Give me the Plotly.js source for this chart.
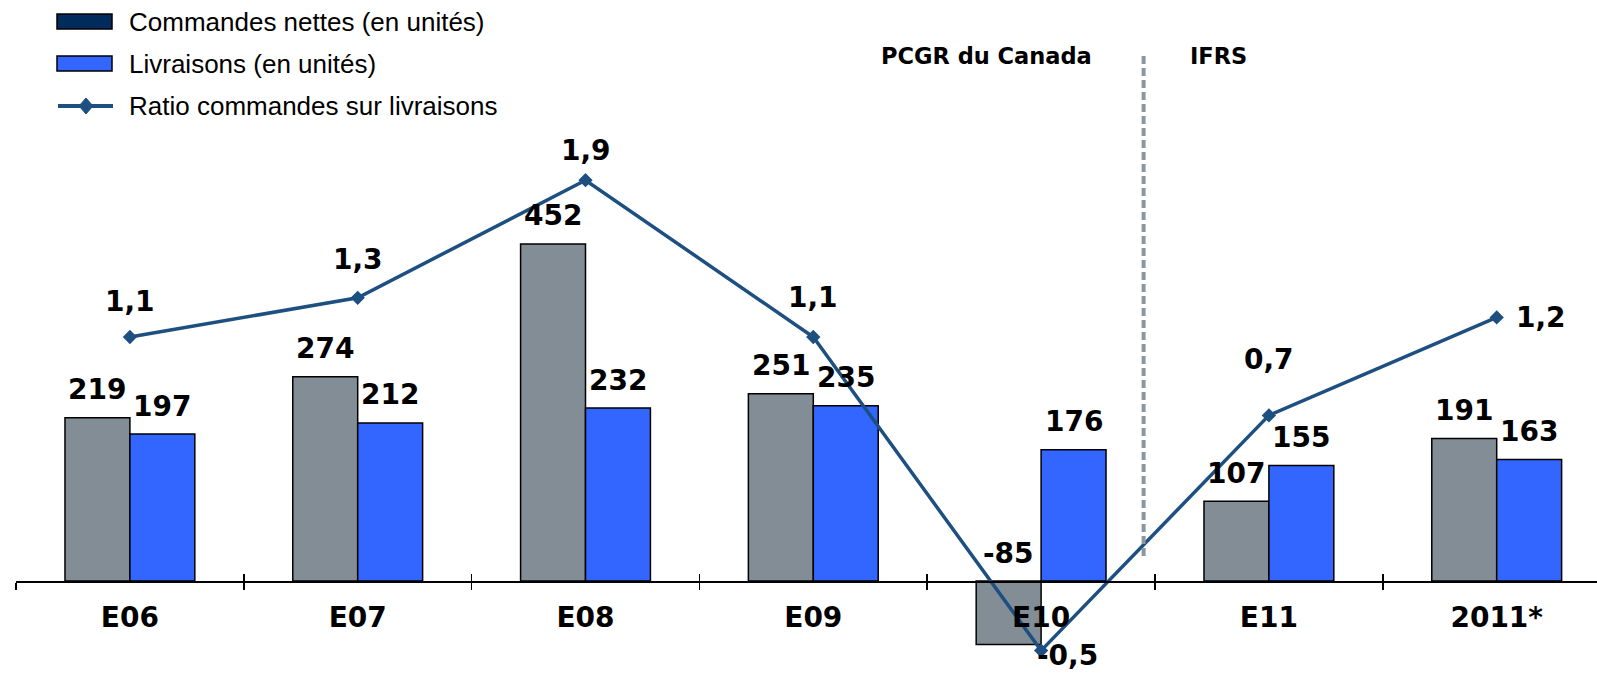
<!DOCTYPE html>
<html>
<head>
<meta charset="utf-8">
<script src="https://cdn.plot.ly/plotly-3.0.1.min.js"></script>
<style>html,body{margin:0;padding:0;background:#fff;}#chart{width:1597px;height:674px;}</style>
</head>
<body>
<div id="chart"></div>
<script>
// ---- data ----
const categories = ['E06', 'E07', 'E08', 'E09', 'E10', 'E11', '2011*'];
const commandes = [219, 274, 452, 251, -85, 107, 191];
const livraisons = [197, 212, 232, 235, 176, 155, 163];
const ratio = [1.1, 1.3, 1.9, 1.1, -0.5, 0.7, 1.2];
const seriesNames = ['Commandes nettes (en unités)', 'Livraisons (en unités)', 'Ratio commandes sur livraisons'];
const periodLabels = ['PCGR du Canada', 'IFRS'];

// ---- style ----
const W = 1597, H = 674;
const FONT = 'Liberation Sans, Arial, Helvetica, sans-serif';
const BOLD = 'DejaVu Sans, Liberation Sans, Arial, sans-serif';
const grayBar = '#828d96';
const blueBar = '#3366ff';
const legendNavy = '#002b5c';
const lineColor = '#1d4f81';
const dashColor = '#8c969e';
const barW = 0.285;
const ratioLabelShift = [[0, 36], [0, 38], [0, 30], [0, 40], [26, -5], [0, 56], [44, 0]];
const axisPos = (H - 581) / H;

function px(x) { return x / W; }
function py(y) { return 1 - y / H; }
function fmt(v) { return v.toFixed(1).replace('.', ','); }

const traces = [
  {
    type: 'bar', name: seriesNames[0], x: categories, y: commandes,
    offset: -barW, width: barW,
    marker: { color: grayBar, line: { color: '#000', width: 1.5 } },
    showlegend: false, hoverinfo: 'x+y'
  },
  {
    type: 'bar', name: seriesNames[1], x: categories, y: livraisons,
    offset: 0, width: barW,
    marker: { color: blueBar, line: { color: '#000', width: 1.5 } },
    showlegend: false, hoverinfo: 'x+y'
  },
  {
    type: 'scatter', mode: 'lines+markers', name: seriesNames[2],
    x: categories, y: ratio, xaxis: 'x2', yaxis: 'y2',
    line: { color: lineColor, width: 3.5 },
    marker: { symbol: 'diamond', size: 11, color: lineColor },
    showlegend: false
  }
];

const labelFont = { family: BOLD, size: 28, color: '#000', weight: 'bold' };
const annotations = [];
categories.forEach((c, i) => {
  annotations.push({
    x: i - barW / 2, y: Math.max(commandes[i], 0), xref: 'x', yref: 'y',
    text: String(commandes[i]), showarrow: false, yshift: 28, yanchor: 'middle', font: labelFont
  });
  annotations.push({
    x: i + barW / 2, y: Math.max(livraisons[i], 0), xref: 'x', yref: 'y',
    text: String(livraisons[i]), showarrow: false, yshift: 28, yanchor: 'middle', font: labelFont
  });
  annotations.push({
    x: i, y: ratio[i], xref: 'x2', yref: 'y2',
    text: fmt(ratio[i]), showarrow: false,
    xshift: ratioLabelShift[i][0], yshift: ratioLabelShift[i][1], yanchor: 'middle', font: labelFont
  });
});
// legend texts
const legendY = [22, 64, 106];
seriesNames.forEach((n, k) => {
  annotations.push({
    x: px(127), y: py(legendY[k]), xref: 'paper', yref: 'paper',
    xanchor: 'left', yanchor: 'middle', showarrow: false, text: n,
    font: { family: FONT, size: 26, color: '#000' }
  });
});
// period labels
const periodFont = { family: BOLD, size: 22.5, color: '#000', weight: 'bold' };
annotations.push({
  x: px(986), y: py(56), xref: 'paper', yref: 'paper', showarrow: false,
  text: periodLabels[0], xanchor: 'center', yanchor: 'middle', font: periodFont
});
annotations.push({
  x: px(1218), y: py(56), xref: 'paper', yref: 'paper', showarrow: false,
  text: periodLabels[1], xanchor: 'center', yanchor: 'middle', font: periodFont
});

const shapes = [
  { type: 'rect', xref: 'paper', yref: 'paper', x0: px(57), x1: px(112), y0: py(29), y1: py(14),
    fillcolor: legendNavy, line: { color: '#000', width: 1.5 } },
  { type: 'rect', xref: 'paper', yref: 'paper', x0: px(57), x1: px(112), y0: py(71), y1: py(56),
    fillcolor: blueBar, line: { color: '#000', width: 1.5 } },
  { type: 'line', xref: 'paper', yref: 'paper', x0: px(58), x1: px(113), y0: py(106), y1: py(106),
    line: { color: lineColor, width: 4 } },
  { type: 'path', xref: 'paper', yref: 'paper',
    path: `M ${px(79)},${py(106)} L ${px(86)},${py(98)} L ${px(93)},${py(106)} L ${px(86)},${py(114)} Z`,
    fillcolor: lineColor, line: { color: lineColor, width: 1 } },
  { type: 'line', xref: 'x', yref: 'paper', x0: 4.45, x1: 4.45, y0: py(556), y1: py(52),
    line: { color: dashColor, width: 4, dash: '8px,4px' } }
];

const xr = [-0.5, -0.5 + (W - 16) / 227.8];
const layout = {
  width: W, height: H,
  margin: { l: 0, r: 0, t: 0, b: 0, pad: 0 },
  paper_bgcolor: '#fff', plot_bgcolor: 'rgba(0,0,0,0)',
  barmode: 'overlay',
  showlegend: false,
  font: { family: FONT, color: '#000' },
  xaxis: {
    type: 'category', categoryorder: 'array', categoryarray: categories,
    domain: [16 / W, 1], range: xr, anchor: 'free', position: axisPos,
    showline: true, linecolor: '#000', linewidth: 1.5,
    ticks: 'outside', tickson: 'boundaries', ticklen: 7, tickwidth: 1.5, tickcolor: '#000',
    showgrid: false, zeroline: false,
    tickfont: { family: BOLD, size: 28, color: '#000', weight: 'bold' },
    ticklabelstandoff: 11, fixedrange: true
  },
  xaxis2: {
    type: 'category', categoryorder: 'array', categoryarray: categories,
    domain: [16 / W, 1], range: xr, overlaying: 'x', anchor: 'free', position: axisPos,
    showline: false, ticks: 'inside', tickson: 'boundaries', ticklen: 7, tickwidth: 1.5, tickcolor: '#000',
    showticklabels: false, showgrid: false, zeroline: false, fixedrange: true
  },
  yaxis: {
    domain: [0, 1], range: [-(H - 581) / 0.7456, 581 / 0.7456],
    visible: false, showgrid: false, zeroline: false, fixedrange: true
  },
  yaxis2: {
    domain: [0, 1], overlaying: 'y', anchor: 'x2',
    range: [-(H - 552.6) / 196, 552.6 / 196],
    visible: false, showgrid: false, zeroline: false, fixedrange: true
  },
  annotations: annotations,
  shapes: shapes
};

Plotly.newPlot('chart', traces, layout, { displayModeBar: false, staticPlot: true });
</script>
</body>
</html>
